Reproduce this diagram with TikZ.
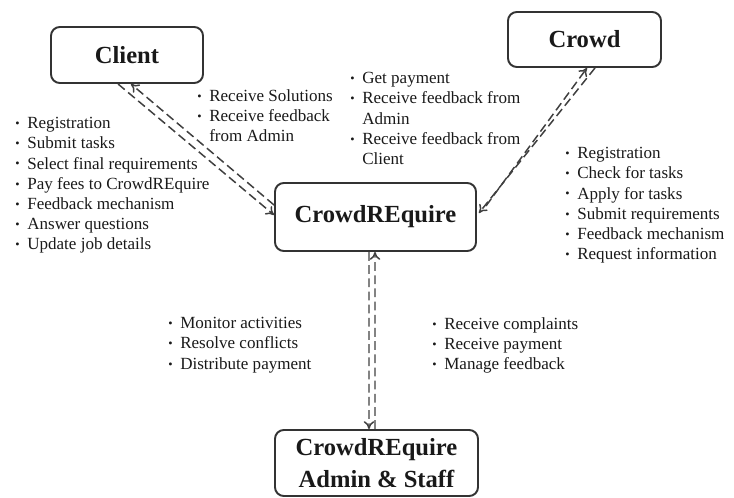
\documentclass[tikz,border=0pt]{standalone}
\usepackage{fontspec}
\setmainfont{Liberation Serif}
\usetikzlibrary{arrows.meta}
\newcommand{\bul}{\makebox[6.8pt][l]{\raisebox{0.6pt}{\fontsize{7}{7}\selectfont\textbullet}}}
\newcommand{\nobul}{\hspace*{6.8pt}}

\begin{document}
\begin{tikzpicture}[scale=1]
\tikzstyle{every node}=[font=\fontsize{9.7}{11.5}\selectfont, text=black!90]
\tikzstyle{party}=[draw=black!80, line width=1.1pt, rounded corners=5pt, font=\fontsize{14}{18.5}\selectfont\bfseries, align=center]
\tikzstyle{list}=[anchor=north west, inner sep=0pt, align=left]
\tikzstyle{link}=[draw=black!75, line width=0.85pt, dash pattern=on 5pt off 2.5pt, -{To[length=4.5pt,width=6pt]}]
	\useasboundingbox (0,0) rectangle (14.68,-9.96);

	\node[party, minimum width=3.04cm, minimum height=1.12cm] (client) at (2.54,-1.1) {Client};
	\node[party, minimum width=3.06cm, minimum height=1.1cm] (crowd) at (11.69,-0.79) {Crowd};
	\node[party, minimum width=4.02cm, minimum height=1.36cm] (core) at (7.51,-4.34) {CrowdREquire};
	\node[party, minimum width=4.06cm, minimum height=1.32cm] (admin) at (7.53,-9.26) {CrowdREquire\\Admin \& Staff};

	\draw[link] ([xshift=-0.18cm]client.south) -- ([yshift=0.04cm]core.west);
	\draw[link] ([yshift=0.24cm]core.west) -- ([xshift=0.08cm]client.south);
	\draw[link] ([xshift=0.21cm]crowd.south) -- ([shift={(0.04,0.08)}]core.east);
	\draw[link] ([shift={(0.18,0.22)}]core.east) -- ([xshift=0.05cm]crowd.south);
	\draw[link] ([xshift=-0.03cm]admin.north) -- ([xshift=-0.01cm]core.south);
	\draw[link] ([xshift=-0.13cm]core.south) -- ([xshift=-0.15cm]admin.north);

	\node[list] (clientjobs) at (0.30,-2.34) {\bul Registration\\ \bul Submit tasks\\ \bul Select final requirements\\ \bul Pay fees to CrowdREquire\\ \bul Feedback mechanism\\ \bul Answer questions\\ \bul Update job details};
	\node[list] (clientgets) at (3.94,-1.78) {\bul Receive Solutions\\ \bul Receive feedback\\ \nobul from Admin};
	\node[list] (crowdgets) at (7.0,-1.44) {\bul Get payment\\ \bul Receive feedback from\\ \nobul Admin\\ \bul Receive feedback from\\ \nobul Client};
	\node[list] (crowdjobs) at (11.3,-2.94) {\bul Registration\\ \bul Check for tasks\\ \bul Apply for tasks\\ \bul Submit requirements\\ \bul Feedback mechanism\\ \bul Request information};
	\node[list] (adminjobs) at (3.36,-6.34) {\bul Monitor activities\\ \bul Resolve conflicts\\ \bul Distribute payment};
	\node[list] (admingets) at (8.64,-6.34) {\bul Receive complaints\\ \bul Receive payment\\ \bul Manage feedback};
\end{tikzpicture}
\end{document}
